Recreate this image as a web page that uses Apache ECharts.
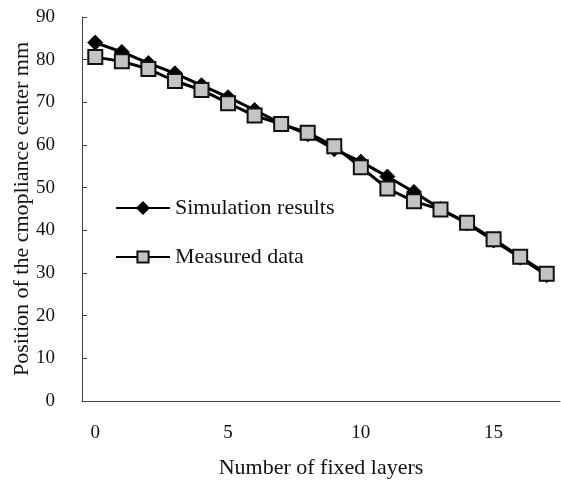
<!DOCTYPE html>
<html>
<head>
<meta charset="utf-8">
<script src="https://cdn.jsdelivr.net/npm/echarts@6/dist/echarts.min.js"></script>
<style>
html, body { margin: 0; padding: 0; background: #fff; }
#chart { width: 561px; height: 480px; }
</style>
</head>
<body>
<div id="chart"></div>
<script>
let layers = ['0', '1', '2', '3', '4', '5', '6', '7', '8', '9', '10', '11', '12', '13', '14', '15', '16', '17']; //层数
let simData = [84, 81.8, 79.2, 76.8, 74, 71.2, 68.2, 65, 62.5, 59, 56.1, 52.6, 49, 45, 41.6, 37.6, 33.6, 29.5]; //仿真结果
let measData = [80.6, 79.6, 77.8, 75, 72.9, 69.8, 66.9, 64.9, 62.9, 59.7, 54.8, 49.8, 46.8, 44.9, 41.8, 37.9, 33.8, 29.8]; //实测数据
let serif = 'Liberation Serif';

let myChart = echarts.init(document.getElementById('chart'));
let option = {
    animation: false,
    textStyle: { fontFamily: serif },
    grid: {
        left: 82,
        right: 1,
        top: 17,
        bottom: 79,
        outerBoundsMode: 'none'
    },
    legend: {
        orient: 'vertical',
        left: 110,
        top: 192,
        itemWidth: 54,
        itemHeight: 14,
        itemGap: 27,
        textStyle: {
            fontFamily: serif,
            fontSize: 22,
            color: '#111'
        },
        data: ['Simulation results', 'Measured data']
    },
    xAxis: {
        type: 'category',
        boundaryGap: true,
        data: layers,
        name: 'Number of fixed layers',
        nameLocation: 'middle',
        nameGap: 56,
        nameMoveOverlap: false,
        nameTextStyle: { fontFamily: serif, fontSize: 22, color: '#111' },
        axisLine: { lineStyle: { color: '#444', width: 1 } },
        axisTick: { inside: true, interval: 0, length: 4, lineStyle: { color: '#444' } },
        axisLabel: {
            interval: 4,
            margin: 23,
            fontFamily: serif,
            fontSize: 19,
            color: '#111'
        },
        splitLine: { show: false }
    },
    yAxis: {
        type: 'value',
        min: 0,
        max: 90,
        interval: 10,
        name: 'Position of the cmopliance center mm',
        nameLocation: 'middle',
        nameGap: 49,
        nameMoveOverlap: false,
        nameTextStyle: { fontFamily: serif, fontSize: 22, color: '#111' },
        axisLine: { show: true, lineStyle: { color: '#444', width: 1 } },
        axisTick: { show: true, inside: true, length: 5, lineStyle: { color: '#444' } },
        axisLabel: {
            margin: 27,
            fontFamily: serif,
            fontSize: 19,
            color: '#111'
        },
        splitLine: { show: false }
    },
    series: [
        {
            name: 'Simulation results',
            type: 'line',
            data: simData,
            symbol: 'diamond',
            symbolSize: 15,
            lineStyle: { color: '#000', width: 3 },
            itemStyle: { color: '#000', borderColor: '#000', borderWidth: 1 },
            z: 2
        },
        {
            name: 'Measured data',
            type: 'line',
            data: measData,
            symbol: 'rect',
            symbolSize: 14,
            lineStyle: { color: '#000', width: 3 },
            itemStyle: { color: '#c4c4c4', borderColor: '#111', borderWidth: 2 },
            z: 3
        }
    ]
};
myChart.setOption(option);
</script>
</body>
</html>
